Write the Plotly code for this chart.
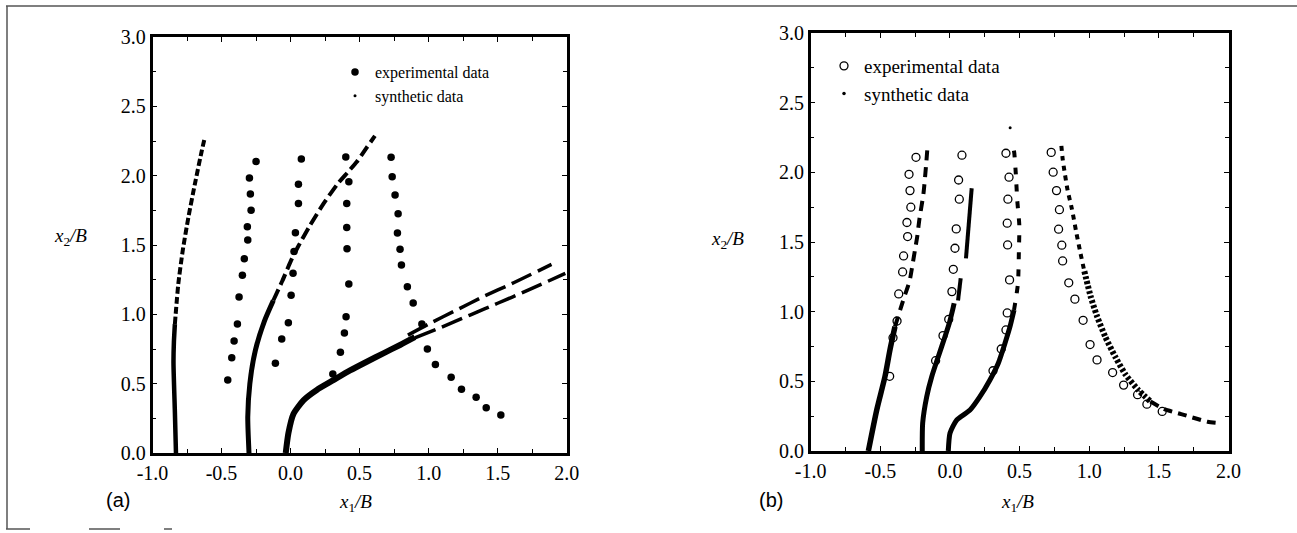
import plotly.graph_objects as go

W, H = 1297, 533

# ---------------- panel (a) data ----------------
a_exp1_x = [-0.455, -0.426, -0.409, -0.385, -0.373, -0.349, -0.335, -0.310, -0.313, -0.286, -0.291, -0.298, -0.250]
a_exp1_y = [0.526, 0.687, 0.807, 0.930, 1.125, 1.281, 1.401, 1.536, 1.632, 1.750, 1.867, 1.983, 2.103]
a_exp2_x = [-0.110, -0.064, -0.016, 0.004, 0.018, 0.025, 0.035, 0.057, 0.057, 0.078]
a_exp2_y = [0.647, 0.822, 0.940, 1.137, 1.296, 1.454, 1.588, 1.800, 1.939, 2.120]
a_exp3_x = [0.306, 0.361, 0.390, 0.402, 0.422, 0.409, 0.407, 0.407, 0.422, 0.400]
a_exp3_y = [0.570, 0.726, 0.865, 0.983, 1.218, 1.473, 1.627, 1.800, 1.956, 2.134]
a_exp4_x = [0.728, 0.736, 0.757, 0.779, 0.774, 0.793, 0.803, 0.846, 0.888, 0.951, 0.991, 1.049, 1.163, 1.238, 1.344, 1.417, 1.523]
a_exp4_y = [2.132, 1.992, 1.860, 1.725, 1.586, 1.469, 1.355, 1.199, 1.081, 0.930, 0.750, 0.639, 0.546, 0.459, 0.402, 0.327, 0.274]

# synthetic tracks (dense part + streaky part)
a_syn1_dense_x = [-0.830, -0.838, -0.848, -0.845, -0.838]
a_syn1_dense_y = [0.0, 0.30, 0.65, 0.80, 0.93]
a_syn1_streak_x = [-0.838, -0.813, -0.781, -0.740, -0.692, -0.643, -0.620]
a_syn1_streak_y = [0.93, 1.22, 1.46, 1.70, 1.945, 2.18, 2.28]

a_syn2_dense_x = [-0.301, -0.310, -0.295, -0.255, -0.19, -0.125]
a_syn2_dense_y = [0.0, 0.26, 0.50, 0.74, 0.95, 1.10]
a_syn2_streak_x = [-0.125, -0.06, 0.0, 0.05, 0.14, 0.24, 0.34, 0.41, 0.48, 0.55, 0.611]
a_syn2_streak_y = [1.10, 1.24, 1.38, 1.48, 1.64, 1.80, 1.94, 2.02, 2.10, 2.20, 2.287]

a_syn3_dense_x = [-0.035, -0.016, 0.02, 0.093, 0.19, 0.31, 0.431, 0.552, 0.672, 0.793, 0.90]
a_syn3_dense_y = [0.0, 0.142, 0.28, 0.38, 0.455, 0.525, 0.595, 0.658, 0.719, 0.779, 0.835]
a_syn3_upper_x = [0.85, 1.0, 1.2, 1.4, 1.6, 1.89]
a_syn3_upper_y = [0.85, 0.93, 1.03, 1.13, 1.22, 1.36]
a_syn3_lower_x = [0.90, 1.1, 1.3, 1.5, 1.7, 1.99]
a_syn3_lower_y = [0.83, 0.91, 0.995, 1.08, 1.165, 1.295]

# ---------------- panel (b) data ----------------
b_exp1_x = [-0.244, -0.294, -0.287, -0.281, -0.309, -0.304, -0.333, -0.340, -0.368, -0.380, -0.409, -0.433]
b_exp1_y = [2.108, 1.986, 1.869, 1.750, 1.640, 1.539, 1.400, 1.285, 1.127, 0.933, 0.813, 0.536]
b_exp2_x = [0.086, 0.062, 0.067, 0.045, 0.036, 0.024, 0.014, -0.009, -0.050, -0.103]
b_exp2_y = [2.123, 1.945, 1.807, 1.594, 1.455, 1.304, 1.144, 0.945, 0.828, 0.648]
b_exp3_x = [0.402, 0.424, 0.416, 0.411, 0.414, 0.428, 0.411, 0.402, 0.368, 0.309]
b_exp3_y = [2.137, 1.965, 1.807, 1.635, 1.479, 1.228, 0.991, 0.869, 0.732, 0.576]
b_exp4_x = [0.727, 0.741, 0.765, 0.786, 0.780, 0.803, 0.809, 0.853, 0.897, 0.956, 1.006, 1.056, 1.168, 1.247, 1.347, 1.414, 1.524]
b_exp4_y = [2.143, 2.001, 1.869, 1.732, 1.592, 1.477, 1.364, 1.207, 1.090, 0.938, 0.764, 0.654, 0.563, 0.473, 0.404, 0.336, 0.284]

b_syn1_dense_x = [-0.586, -0.526, -0.467, -0.431, -0.395]
b_syn1_dense_y = [0.0, 0.294, 0.533, 0.725, 0.892]
b_syn1_streak_x = [-0.395, -0.33, -0.29, -0.27, -0.25, -0.235, -0.22, -0.19, -0.17, -0.16]
b_syn1_streak_y = [0.892, 1.10, 1.22, 1.33, 1.45, 1.54, 1.66, 1.85, 2.07, 2.20]

b_syn2_dense_x = [-0.199, -0.196, -0.167, -0.131, -0.084, -0.036, -0.005, 0.019, 0.03]
b_syn2_dense_y = [0.0, 0.2, 0.39, 0.533, 0.677, 0.82, 0.917, 1.012, 1.06]
b_syn2_streak_x = [0.058, 0.077, None, 0.115, 0.156]
b_syn2_streak_y = [1.08, 1.24, None, 1.383, 1.886]

b_syn3_dense_x = [-0.012, 0.0, 0.048, 0.144, 0.215, 0.287, 0.347, 0.395, 0.431, 0.46]
b_syn3_dense_y = [0.0, 0.127, 0.222, 0.294, 0.39, 0.51, 0.63, 0.773, 0.892, 1.012]
b_syn3_streak_x = [0.46, 0.488, 0.495, 0.498, 0.483, 0.474, 0.462, 0.455]
b_syn3_streak_y = [1.012, 1.20, 1.44, 1.62, 1.80, 1.97, 2.137, 2.18]
b_syn3_dot_x = [0.432]
b_syn3_dot_y = [2.32]

b_syn4_top_x = [0.80, 0.81, 0.825, 0.845, 0.875, 0.905, 0.935, 0.965]
b_syn4_top_y = [2.19, 2.09, 1.99, 1.87, 1.74, 1.58, 1.43, 1.29]
b_syn4_mid_x = [0.965, 1.01, 1.055, 1.115, 1.19, 1.26, 1.35, 1.44]
b_syn4_mid_y = [1.29, 1.11, 0.97, 0.82, 0.67, 0.55, 0.44, 0.355]
b_syn4_bot_x = [1.44, 1.54, 1.66, 1.76, 1.85, 1.95]
b_syn4_bot_y = [0.355, 0.30, 0.265, 0.235, 0.21, 0.20]

tick_vals = [0.0, 0.5, 1.0, 1.5, 2.0, 2.5, 3.0]
xtick_vals = [-1.0, -0.5, 0.0, 0.5, 1.0, 1.5, 2.0]
legend_labels = ["experimental data", "synthetic data"]

SERIF = "Liberation Serif"
fig = go.Figure()


def add_line(xs, ys, width, dash, panel, shape="spline"):
    ax = "x" if panel == "a" else "x2"
    ay = "y" if panel == "a" else "y2"
    fig.add_trace(go.Scatter(x=xs, y=ys, mode="lines", xaxis=ax, yaxis=ay,
                             line=dict(color="black", width=width, dash=dash, shape=shape,
                                       smoothing=0.6),
                             showlegend=False, hoverinfo="skip"))


# ---- panel (a) ----
add_line(a_syn1_dense_x, a_syn1_dense_y, 4.5, "solid", "a")
add_line(a_syn1_streak_x, a_syn1_streak_y, 4, "7px,3px", "a")
add_line(a_syn2_dense_x, a_syn2_dense_y, 5, "solid", "a")
add_line(a_syn2_streak_x, a_syn2_streak_y, 4, "12px,5px", "a")
add_line(a_syn3_dense_x, a_syn3_dense_y, 6, "solid", "a")
add_line(a_syn3_upper_x, a_syn3_upper_y, 3.5, "22px,7px", "a")
add_line(a_syn3_lower_x, a_syn3_lower_y, 3.5, "22px,7px", "a")

fig.add_trace(go.Scatter(
    x=a_exp1_x + a_exp2_x + a_exp3_x + a_exp4_x,
    y=a_exp1_y + a_exp2_y + a_exp3_y + a_exp4_y,
    mode="markers", marker=dict(symbol="circle", size=7.5, color="black"),
    name=legend_labels[0], legend="legend", xaxis="x", yaxis="y"))
fig.add_trace(go.Scatter(x=[None], y=[None], mode="markers",
                         marker=dict(symbol="circle", size=3, color="black"),
                         name=legend_labels[1], legend="legend", xaxis="x", yaxis="y"))

# ---- panel (b) ----
add_line(b_syn1_dense_x, b_syn1_dense_y, 5.5, "solid", "b")
add_line(b_syn1_streak_x, b_syn1_streak_y, 4, "10px,7px", "b")
add_line(b_syn2_dense_x, b_syn2_dense_y, 5, "solid", "b")
add_line(b_syn2_streak_x, b_syn2_streak_y, 4, "solid", "b", shape="linear")
add_line(b_syn3_dense_x, b_syn3_dense_y, 5, "solid", "b")
add_line(b_syn3_streak_x, b_syn3_streak_y, 4, "7px,10px", "b")
add_line(b_syn4_top_x, b_syn4_top_y, 4, "5px,5px", "b")
add_line(b_syn4_mid_x, b_syn4_mid_y, 6, "3px,2px", "b")
add_line(b_syn4_bot_x, b_syn4_bot_y, 4, "9px,6px", "b")
fig.add_trace(go.Scatter(x=b_syn3_dot_x, y=b_syn3_dot_y, mode="markers", xaxis="x2", yaxis="y2",
                         marker=dict(symbol="circle", size=3, color="black"),
                         showlegend=False, hoverinfo="skip"))

fig.add_trace(go.Scatter(
    x=b_exp1_x + b_exp2_x + b_exp3_x + b_exp4_x,
    y=b_exp1_y + b_exp2_y + b_exp3_y + b_exp4_y,
    mode="markers", marker=dict(symbol="circle-open", size=8, color="black", line=dict(width=1.3)),
    name=legend_labels[0], legend="legend2", xaxis="x2", yaxis="y2"))
fig.add_trace(go.Scatter(x=[None], y=[None], mode="markers",
                         marker=dict(symbol="circle", size=3.5, color="black"),
                         name=legend_labels[1], legend="legend2", xaxis="x2", yaxis="y2"))


def xax(domain, anchor):
    return dict(domain=domain, range=[-1, 2], tickvals=xtick_vals, ticktext=[f"{v:.1f}" for v in xtick_vals],
                anchor=anchor, automargin=False,
                ticks="inside", ticklen=5, tickwidth=1, tickcolor="black",
                minor=dict(dtick=0.25, ticks="inside", ticklen=4, tickwidth=1, tickcolor="black"),
                showline=True, linecolor="black", linewidth=2.5, mirror="allticks",
                showgrid=False, zeroline=False,
                tickfont=dict(family=SERIF, size=20, color="black"))


def yax(domain, anchor):
    return dict(domain=domain, range=[0, 3], tickvals=tick_vals, ticktext=[f"{v:.1f}" for v in tick_vals],
                anchor=anchor, automargin=False,
                ticks="inside", ticklen=5, tickwidth=1, tickcolor="black",
                minor=dict(dtick=0.25, ticks="inside", ticklen=4, tickwidth=1, tickcolor="black"),
                showline=True, linecolor="black", linewidth=2.5, mirror="allticks",
                showgrid=False, zeroline=False,
                tickfont=dict(family=SERIF, size=20, color="black"))


def px_x(p):
    return p / W


def px_y(p):
    return (H - p) / H


annotations = [
    dict(text="(a)", x=px_x(118), y=px_y(500), font=dict(family="Liberation Sans", size=20)),
    dict(text="(b)", x=px_x(771), y=px_y(500), font=dict(family="Liberation Sans", size=20)),
    dict(text="<i>x</i><sub>1</sub><i>/B</i>", x=px_x(355), y=px_y(503), font=dict(family=SERIF, size=19)),
    dict(text="<i>x</i><sub>1</sub><i>/B</i>", x=px_x(1017), y=px_y(503), font=dict(family=SERIF, size=19)),
    dict(text="<i>x</i><sub>2</sub><i>/B</i>", x=px_x(70), y=px_y(237), font=dict(family=SERIF, size=19)),
    dict(text="<i>x</i><sub>2</sub><i>/B</i>", x=px_x(727), y=px_y(240), font=dict(family=SERIF, size=19)),
]
for a in annotations:
    a.update(xref="paper", yref="paper", showarrow=False, xanchor="center", yanchor="middle")
    a["font"]["color"] = "black"

frame = "#555555"
shapes = [
    dict(type="line", xref="paper", yref="paper", x0=px_x(6), x1=1, y0=px_y(6), y1=px_y(6),
         line=dict(color=frame, width=1.5)),
    dict(type="line", xref="paper", yref="paper", x0=px_x(7), x1=px_x(7), y0=px_y(6), y1=px_y(529),
         line=dict(color=frame, width=1.5)),
    dict(type="line", xref="paper", yref="paper", x0=px_x(6), x1=px_x(30), y0=px_y(529), y1=px_y(529),
         line=dict(color=frame, width=1.5)),
    dict(type="line", xref="paper", yref="paper", x0=px_x(89), x1=px_x(120), y0=px_y(529), y1=px_y(529),
         line=dict(color=frame, width=1.5)),
    dict(type="line", xref="paper", yref="paper", x0=px_x(164), x1=px_x(172), y0=px_y(529), y1=px_y(529),
         line=dict(color=frame, width=1.5)),
]

fig.update_layout(
    width=W, height=H, autosize=False,
    margin=dict(l=0, r=0, t=0, b=0, pad=0, autoexpand=False),
    paper_bgcolor="white", plot_bgcolor="white",
    xaxis=xax([px_x(152.5), px_x(566.7)], "y"), yaxis=yax([px_y(453), px_y(37)], "x"),
    xaxis2=xax([px_x(810.7), px_x(1228.5)], "y2"), yaxis2=yax([px_y(451), px_y(33)], "x2"),
    legend=dict(x=px_x(335), y=px_y(55), xanchor="left", yanchor="top",
                bgcolor="rgba(0,0,0,0)", borderwidth=0, tracegroupgap=0,
                font=dict(family=SERIF, size=16, color="black")),
    legend2=dict(x=px_x(824), y=px_y(47), xanchor="left", yanchor="top",
                 bgcolor="rgba(0,0,0,0)", borderwidth=0, tracegroupgap=0,
                 font=dict(family=SERIF, size=19, color="black")),
    annotations=annotations,
    shapes=shapes,
    showlegend=True,
)

# remove the browser's default 8px page margin so the figure starts at the window corner
fig.write_html("out.html", config={"displayModeBar": False},
               post_script="document.body.style.margin='0';document.body.style.overflow='hidden';")
